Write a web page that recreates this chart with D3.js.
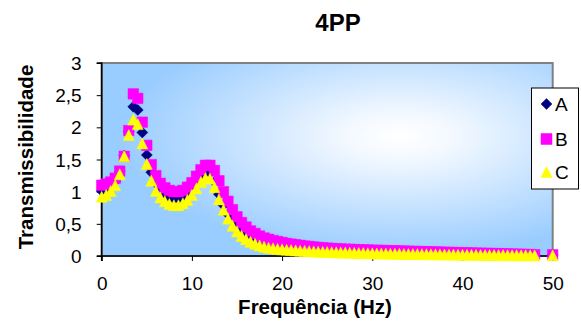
<!DOCTYPE html>
<html><head><meta charset="utf-8">
<script src="https://cdn.jsdelivr.net/npm/d3@7"></script>
<style>
html,body{margin:0;padding:0;background:#fff;}
svg{display:block;font-family:"Liberation Sans",Arial,sans-serif;}
</style></head>
<body><svg id="c" width="581" height="325"></svg>
<script>
const title = "4PP";
const xTitle = "Frequência (Hz)";
const yTitle = "Transmissibilidade";
const seriesNames = ["A", "B", "C"];
const xTicks = [0, 10, 20, 30, 40, 50];
const yTicks = [0, 0.5, 1, 1.5, 2, 2.5, 3];
const yTickLabels = ["0", "0,5", "1", "1,5", "2", "2,5", "3"];

const freq = [0,0.5,1,1.5,2,2.5,3,3.5,4,4.5,5,5.5,6,6.5,7,7.5,8,8.5,9,9.5,
10,10.5,11,11.5,12,12.5,13,13.5,14,14.5,15,15.5,16,16.5,17,17.5,18,18.5,19,19.5,
20,20.5,21,21.5,22,22.5,23,23.5,24,24.5,25,25.5,26,26.5,27,27.5,28,28.5,29,29.5,
30,30.5,31,31.5,32,32.5,33,33.5,34,34.5,35,35.5,36,36.5,37,37.5,38,38.5,39,39.5,
40,40.5,41,41.5,42,42.5,43,43.5,44,44.5,45,45.5,46,46.5,47,47.5,48,50];

const valuesA = [1.01,1.03,1.08,1.16,1.31,1.56,1.93,2.32,2.27,1.92,1.57,1.30,1.13,1.02,0.95,0.91,0.89,0.89,0.92,0.97,
1.05,1.15,1.25,1.31,1.29,1.15,0.96,0.79,0.65,0.54,0.46,0.40,0.35,0.31,0.27,0.24,0.215,0.195,0.18,0.165,
0.155,0.146,0.138,0.13,0.124,0.117,0.111,0.106,0.101,0.096,0.092,0.088,0.085,0.082,0.079,0.077,0.074,0.072,0.07,0.068,
0.066,0.064,0.062,0.06,0.059,0.057,0.056,0.054,0.053,0.051,0.05,0.048,0.047,0.045,0.044,0.043,0.041,0.04,0.038,0.037,
0.035,0.034,0.033,0.032,0.03,0.029,0.028,0.027,0.025,0.024,0.023,0.022,0.021,0.02,0.019,0.018,0.017,0.015];

const valuesB = [1.10,1.12,1.15,1.21,1.32,1.55,1.95,2.52,2.45,2.08,1.72,1.42,1.25,1.13,1.06,1.02,1.00,1.00,1.02,1.07,
1.14,1.24,1.34,1.41,1.41,1.33,1.17,1.00,0.85,0.72,0.61,0.52,0.45,0.39,0.35,0.31,0.28,0.26,0.24,0.225,
0.21,0.195,0.185,0.175,0.165,0.155,0.148,0.14,0.133,0.127,0.122,0.117,0.113,0.109,0.106,0.103,0.10,0.097,0.095,0.093,
0.09,0.088,0.086,0.084,0.082,0.08,0.078,0.076,0.074,0.072,0.07,0.068,0.066,0.064,0.062,0.06,0.058,0.056,0.054,0.052,
0.05,0.048,0.046,0.045,0.043,0.041,0.039,0.037,0.036,0.034,0.032,0.03,0.028,0.026,0.024,0.022,0.02,0.02];

const valuesC = [0.92,0.95,1.01,1.10,1.27,1.55,1.88,2.12,2.05,1.75,1.43,1.17,1.01,0.91,0.85,0.81,0.79,0.79,0.82,0.87,
0.95,1.05,1.15,1.21,1.20,1.07,0.88,0.72,0.58,0.47,0.38,0.31,0.26,0.22,0.19,0.165,0.145,0.13,0.12,0.11,
0.103,0.097,0.092,0.087,0.083,0.079,0.075,0.071,0.068,0.065,0.062,0.059,0.057,0.055,0.053,0.051,0.049,0.047,0.045,0.043,
0.042,0.04,0.039,0.037,0.036,0.035,0.034,0.033,0.032,0.031,0.03,0.029,0.028,0.027,0.026,0.025,0.024,0.023,0.022,0.021,
0.02,0.019,0.018,0.018,0.017,0.016,0.016,0.015,0.014,0.014,0.013,0.012,0.012,0.011,0.011,0.01,0.01,0.01];

const colors = ["#000080", "#FF00FF", "#FFFF00"];
const shapes = ["diamond", "square", "triangle"];

const svg = d3.select("#c");
const m = {left: 101.7, right: 552.7, top: 63, bottom: 256};
const x = d3.scaleLinear().domain([0, 50]).range([m.left, m.right]);
const y = d3.scaleLinear().domain([0, 3]).range([m.bottom, m.top]);

// gradient
const defs = svg.append("defs");
const g = defs.append("radialGradient").attr("id","bg")
  .attr("cx", 0.66).attr("cy", 0.38).attr("r", 0.62).attr("fx",0.66).attr("fy",0.38);
g.append("stop").attr("offset","0%").attr("stop-color","#ffffff");
g.append("stop").attr("offset","18%").attr("stop-color","#f4f9ff");
g.append("stop").attr("offset","100%").attr("stop-color","#99ccff");

svg.append("rect").attr("x", m.left).attr("y", m.top)
  .attr("width", m.right - m.left).attr("height", m.bottom - m.top)
  .attr("fill", "url(#bg)").attr("stroke", "#808080").attr("stroke-width", 2);

// axes
const yAxis = d3.axisLeft(y).tickValues(yTicks).tickSize(5)
  .tickFormat((d,i) => yTickLabels[i]);
const xAxis = d3.axisBottom(x).tickValues(xTicks).tickSize(5);
const ya = svg.append("g").attr("transform", `translate(${m.left},0)`).call(yAxis);
const xa = svg.append("g").attr("transform", `translate(0,${m.bottom})`).call(xAxis);
[ya, xa].forEach(a => {
  a.select(".domain").attr("stroke", "#000").attr("stroke-width", 1.6);
  a.selectAll(".tick line").attr("stroke", "#000").attr("stroke-width", 1);
  a.selectAll(".tick text").attr("fill", "#000")
    .style("font-size", "19px").style("font-family", '"Liberation Sans",Arial,sans-serif');
});
ya.select(".domain").attr("d", `M-5,${m.top}H0V${m.bottom}H-5`);
ya.selectAll(".tick text").attr("x", -20).attr("dy", "0.35em");
xa.select(".domain").attr("d", `M${m.left},5V0H${m.right}V5`);
xa.selectAll(".tick text").attr("y", 0).attr("dy", 0).attr("transform", "translate(0,34)");

// markers
function markerPath(shape, s) {
  const h = s / 2;
  if (shape === "diamond") return `M0,${-h}L${h},0L0,${h}L${-h},0Z`;
  if (shape === "square") return `M${-h},${-h}H${h}V${h}H${-h}Z`;
  return `M0,${-h}L${h},${h}H${-h}Z`;
}
const seriesVals = [valuesA, valuesB, valuesC];
const sizes = [11, 10.5, 11];
seriesVals.forEach((vals, si) => {
  svg.append("g").selectAll("path").data(freq.map((f, i) => [f, vals[i]]))
    .join("path")
    .attr("transform", d => `translate(${x(d[0])},${y(d[1])})`)
    .attr("d", markerPath(shapes[si], sizes[si]))
    .attr("fill", colors[si]).attr("stroke", colors[si]).attr("stroke-width", 0.5);
});

// titles
svg.append("text").attr("x", 338).attr("y", 31).attr("text-anchor", "middle")
  .style("font-size", "24px").style("font-weight", "bold").text(title);
svg.append("text").attr("x", 315).attr("y", 314).attr("text-anchor", "middle")
  .style("font-size", "20.5px").style("font-weight", "bold").text(xTitle);
svg.append("text").attr("transform", "translate(33,157) rotate(-90)").attr("text-anchor", "middle")
  .style("font-size", "20.5px").style("font-weight", "bold").text(yTitle);

// legend
const lg = svg.append("g");
lg.append("rect").attr("x", 531.5).attr("y", 88).attr("width", 47).attr("height", 101)
  .attr("fill", "#fff").attr("stroke", "#000").attr("stroke-width", 1);
const ly = [104, 139, 172];
seriesNames.forEach((n, i) => {
  lg.append("path").attr("transform", `translate(546.5,${ly[i]})`)
    .attr("d", markerPath(shapes[i], 11)).attr("fill", colors[i]).attr("stroke", colors[i]).attr("stroke-width", 0.5);
  lg.append("text").attr("x", 555).attr("y", ly[i]).attr("dy", "0.35em")
    .style("font-size", "19px").text(n);
});
</script></body></html>
